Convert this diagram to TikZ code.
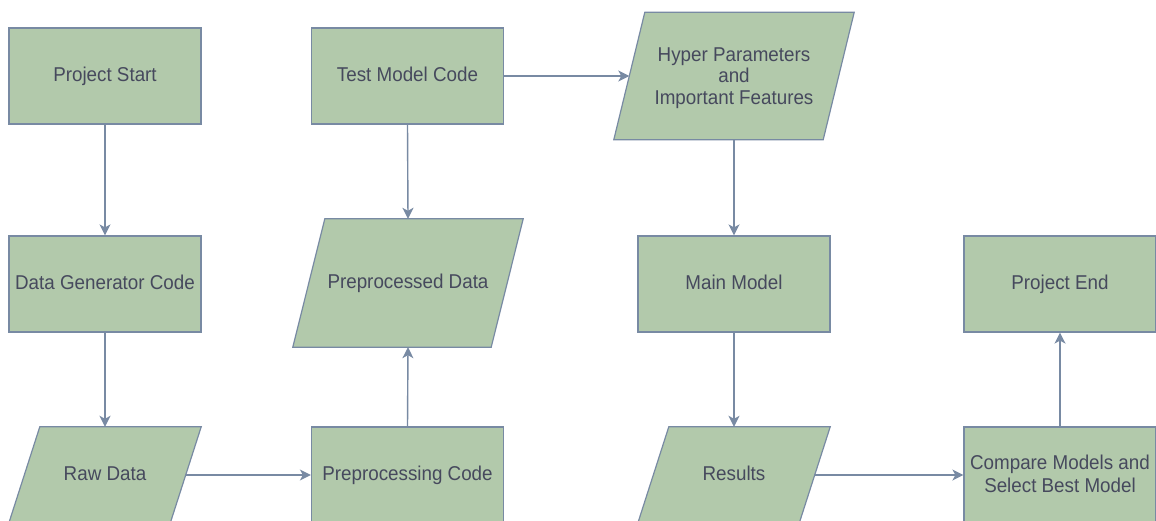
\documentclass[tikz,border=0pt]{standalone}
\usepackage{fontspec}
\setmainfont{Liberation Sans}[FakeStretch=0.94]
\usetikzlibrary{calc,arrows.meta,backgrounds}
\definecolor{boxfill}{HTML}{B2C9AB}
\definecolor{boxline}{HTML}{788AA3}
\definecolor{boxtext}{HTML}{46495D}
\tikzset{
  base/.style={inner sep=0pt, text=boxtext, align=center,
    font=\fontsize{20}{23}\selectfont},
  single/.style={text height=14pt, text depth=3pt},
  procbox/.style={base, draw=boxline, fill=boxfill, line width=1.2pt,
    minimum width=192pt, minimum height=96pt},
  paratext/.style={base},
  parashape/.style={draw=boxline, fill=boxfill, line width=1.2pt},
  flow/.style={draw=boxline, line width=1.4pt,
    -{Stealth[length=11pt,width=11pt,inset=3pt]}}
}
% name, center, mid width, height, slant offset, text, options
\newcommand\paranode[7]{%
  \node[paratext, #7, minimum width=#3, minimum height=#4] (#1) at (#2) {#6};
  \begin{scope}[on background layer]
    \path[parashape] ($(#1.north west)+(#5/2,0)$) -- ($(#1.north east)+(#5/2,0)$)
      -- ($(#1.south east)-(#5/2,0)$) -- ($(#1.south west)-(#5/2,0)$) -- cycle;
  \end{scope}}
\begin{document}
\begin{tikzpicture}[x=1pt,y=-1pt]
  \useasboundingbox (0,0) rectangle (1156,521);
  \begin{scope}[on background layer]
    \fill[white] (0,0) rectangle (1156,521);
  \end{scope}
  % left column
  \node[procbox, single] (ps) at (105,76) {Project Start};
  \node[procbox, single] (dg) at (105,284) {Data Generator Code};
  \paranode{rd}{105,475}{161pt}{96pt}{31}{Raw Data}{single}
  % second column
  \node[procbox, single] (tm) at (407.5,76) {Test Model Code};
  \paranode{pd}{408,283}{198pt}{128pt}{32}{Preprocessed Data}{single}
  \node[procbox, single] (pc) at (407.5,475) {Preprocessing Code};
  % third column
  \paranode{hp}{734,76}{209pt}{127pt}{31}{Hyper Parameters\\and\\Important Features}{text depth=0pt, font=\fontsize{20}{21.5}\selectfont}
  \node[procbox, single] (mm) at (734,284) {Main Model};
  \paranode{rs}{734,475}{161pt}{96pt}{31}{Results}{single}
  % fourth column
  \node[procbox, single] (pe) at (1060,284) {Project End};
  \node[procbox, text depth=2pt] (cm) at (1060,475) {Compare Models and\\Select Best Model};
  % connectors
  \draw[flow] (ps.south) -- (dg.north);
  \draw[flow] (dg.south) -- (rd.north);
  \draw[flow] (rd.east) -- (pc.west);
  \draw[flow] (pc.north) -- (pd.south);
  \draw[flow] (tm.south) -- (pd.north);
  \draw[flow] (tm.east) -- (hp.west);
  \draw[flow] (hp.south) -- (mm.north);
  \draw[flow] (mm.south) -- (rs.north);
  \draw[flow] (rs.east) -- (cm.west);
  \draw[flow] (cm.north) -- (pe.south);
\end{tikzpicture}
\end{document}
